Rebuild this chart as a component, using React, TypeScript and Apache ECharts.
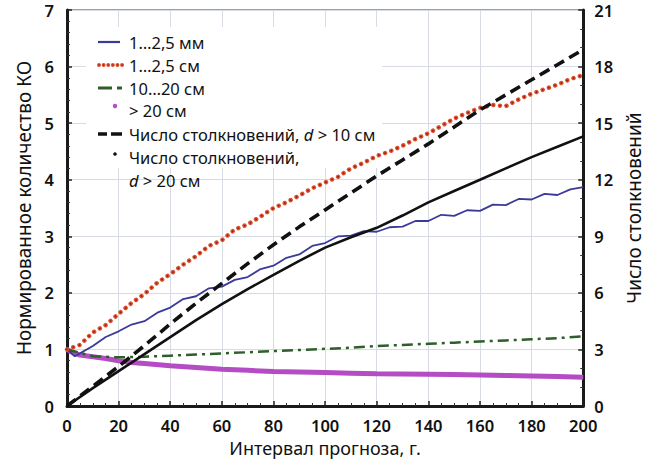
import React, { useEffect, useRef } from "react";
import * as echarts from "echarts";

// forecast interval, years
const step5 = [0,5,10,15,20,25,30,35,40,45,50,55,60,65,70,75,80,85,90,95,100,105,110,115,120,125,130,135,140,145,150,155,160,165,170,175,180,185,190,195,200];
const step10 = [0,10,20,30,40,50,60,70,80,90,100,110,120,130,140,150,160,170,180,190,200];

// 1…2,5 мм (left axis)
const mmX = [0,3,5,10,15,20,25,30,35,40,45,50,55,60,65,70,75,80,85,90,95,100,105,110,115,120,125,130,135,140,145,150,155,160,165,170,175,180,185,190,195,200];
const mmY = [1.00,0.88,0.93,1.06,1.22,1.32,1.44,1.50,1.65,1.74,1.89,1.94,2.08,2.11,2.23,2.28,2.42,2.48,2.62,2.68,2.83,2.88,3.00,3.01,3.09,3.08,3.16,3.17,3.27,3.27,3.38,3.36,3.46,3.45,3.56,3.55,3.66,3.65,3.75,3.73,3.83,3.87];

// 1…2,5 см (left axis, on step5)
const cmY = [1.0,1.08,1.3,1.43,1.63,1.82,1.98,2.18,2.33,2.5,2.65,2.83,2.93,3.12,3.21,3.35,3.5,3.6,3.72,3.85,3.95,4.05,4.2,4.3,4.42,4.5,4.6,4.72,4.82,4.95,5.08,5.18,5.27,5.32,5.3,5.42,5.52,5.6,5.68,5.78,5.85];

// 10…20 см (left axis, on step10)
const midY = [1.0,0.88,0.86,0.87,0.89,0.91,0.93,0.95,0.97,0.99,1.01,1.03,1.06,1.08,1.1,1.12,1.14,1.16,1.18,1.2,1.23];

// > 20 см (left axis)
const bigX = [0,2,5,10,15,20,25,30,40,50,60,70,80,90,100,110,120,130,140,150,160,170,180,190,200];
const bigY = [1.0,0.95,0.9,0.87,0.84,0.8,0.77,0.75,0.71,0.68,0.65,0.63,0.61,0.6,0.59,0.58,0.57,0.565,0.56,0.555,0.55,0.54,0.53,0.52,0.51];

// collisions (right axis, on step10)
const coll10Y = [0,1.05,2.1,3.2,4.35,5.45,6.5,7.55,8.55,9.5,10.4,11.3,12.2,13.05,13.9,14.8,15.7,16.5,17.3,18.1,18.9];
const coll20Y = [0,0.95,1.85,2.75,3.65,4.55,5.4,6.2,6.95,7.7,8.4,8.95,9.45,10.1,10.8,11.4,12.0,12.6,13.2,13.75,14.3];

const legendLabels = ["1…2,5 мм", "1…2,5 см", "10…20 см", "> 20 см", "Число столкновений, ", "Число столкновений,"];

const FONT = "'Noto Sans', 'Open Sans', sans-serif";
const pairs = (xs: number[], ys: number[]) => xs.map((x, i) => [x, ys[i]]);

export default function App() {
  const ref = useRef<HTMLDivElement>(null);
  useEffect(() => {
    if (!ref.current) return;
    const chart = echarts.init(ref.current, undefined, { renderer: "svg" });
    const axisLine = { show: true, lineStyle: { color: "#1a1a1a", width: 3 } };
    const tickLabel = { color: "#111", fontSize: 16.5, fontWeight: 600 as any, fontFamily: FONT, lineHeight: 15 };
    const rowY = [42, 65, 88, 110, 134, 157, 180];
    const lx = 98;
    const tx = 129;
    const lfont = 16.5;
    const legendText = (y: number, text: string, rich?: any) => ({
      type: "text", z: 10, x: tx, y,
      style: { text, fill: "#111", fontSize: lfont, fontFamily: FONT, verticalAlign: "middle", rich },
    });
    const richI = { i: { fontStyle: "italic", fontSize: lfont, fontFamily: FONT, fill: "#111" }, n: { fontSize: lfont, fontFamily: FONT, fill: "#111" } };
    chart.setOption({
      animation: false,
      grid: { left: 67, right: 60, top: 10, bottom: 56, show: true, borderColor: "#444", borderWidth: 1, backgroundColor: "transparent" },
      xAxis: {
        type: "value", min: 0, max: 200, interval: 20,
        name: "Интервал прогноза, г.", nameLocation: "middle", nameGap: 28,
        nameTextStyle: { color: "#111", fontSize: 18, fontFamily: FONT },
        axisLine, axisTick: { inside: true, length: 5, lineStyle: { color: "#222", width: 1.5 } },
        minorTick: { show: true, splitNumber: 4, length: 3, lineStyle: { color: "#333" } },
        axisLabel: { ...tickLabel, margin: 12 },
        splitLine: { show: true, lineStyle: { color: "#d6dbe4", width: 1 } },
      },
      yAxis: [
        {
          type: "value", min: 0, max: 7, interval: 1,
          name: "Нормированное количество КО", nameLocation: "middle", nameGap: 27,
          nameTextStyle: { color: "#111", fontSize: 19, fontFamily: FONT },
          axisLine, axisTick: { inside: true, length: 5, lineStyle: { color: "#222", width: 1.5 } },
          minorTick: { show: true, splitNumber: 5, length: 3, lineStyle: { color: "#333" } },
          axisLabel: { ...tickLabel, margin: 13 },
          splitLine: { show: true, lineStyle: { color: "#d6dbe4", width: 1 } },
        },
        {
          type: "value", min: 0, max: 21, interval: 3, position: "right",
          name: "Число столкновений", nameLocation: "middle", nameGap: 36, nameRotate: 90,
          nameTextStyle: { color: "#111", fontSize: 19, fontFamily: FONT },
          axisLine, axisTick: { inside: true, length: 5, lineStyle: { color: "#222", width: 1.5 } },
          minorTick: { show: true, splitNumber: 3, length: 3, lineStyle: { color: "#333" } },
          axisLabel: { ...tickLabel, margin: 11 },
          splitLine: { show: false },
        },
      ],
      series: [
        { name: "> 20 см", type: "line", yAxisIndex: 0, data: pairs(bigX, bigY), showSymbol: false, z: 2,
          lineStyle: { color: "#b44cc4", width: 5 } },
        { name: "10…20 см", type: "line", yAxisIndex: 0, data: pairs(step10, midY), showSymbol: false, z: 3,
          lineStyle: { color: "#2e5e2a", width: 2.5, type: [11, 5, 3, 5] } },
        { name: "1…2,5 мм", type: "line", yAxisIndex: 0, data: pairs(mmX, mmY), showSymbol: false, z: 4,
          lineStyle: { color: "#3a3a98", width: 1.8 } },
        { name: "1…2,5 см", type: "line", yAxisIndex: 0, data: pairs(step5, cmY), showSymbol: false, z: 5,
          lineStyle: { color: "#e0502f", width: 4.5, type: [0.01, 6.6], cap: "round" } },
        { name: "1…2,5 см ", type: "line", yAxisIndex: 0, data: pairs(step5, cmY), showSymbol: false, z: 6,
          lineStyle: { color: "#8a2416", width: 1.8, type: [0.01, 6.6], cap: "round" } },
        { name: "Число столкновений, d > 20 см", type: "line", yAxisIndex: 1, data: pairs(step10, coll20Y), showSymbol: false, z: 7,
          lineStyle: { color: "#111", width: 2.6 } },
        { name: "Число столкновений, d > 10 см", type: "line", yAxisIndex: 1, data: pairs(step10, coll10Y), showSymbol: false, z: 8,
          lineStyle: { color: "#111", width: 3.6, type: [11, 6] } },
      ],
      graphic: [
        { type: "rect", z: 1, shape: { x: 86, y: 27, width: 296, height: 141 }, style: { fill: "#fff" } },
        { type: "line", z: 10, shape: { x1: lx, y1: rowY[0], x2: lx + 22, y2: rowY[0] }, style: { stroke: "#3a3a98", lineWidth: 2.2 } },
        { type: "line", z: 10, shape: { x1: lx + 1, y1: rowY[1], x2: lx + 26, y2: rowY[1] }, style: { stroke: "#e0502f", lineWidth: 4, lineDash: [0.01, 4.6], lineCap: "round" } },
        { type: "line", z: 11, shape: { x1: lx + 1, y1: rowY[1], x2: lx + 26, y2: rowY[1] }, style: { stroke: "#8a2416", lineWidth: 1.5, lineDash: [0.01, 4.6], lineCap: "round" } },
        { type: "line", z: 10, shape: { x1: lx, y1: rowY[2], x2: lx + 14, y2: rowY[2] }, style: { stroke: "#2e5e2a", lineWidth: 3 } },
        { type: "line", z: 10, shape: { x1: lx + 19, y1: rowY[2], x2: lx + 24, y2: rowY[2] }, style: { stroke: "#2e5e2a", lineWidth: 3 } },
        { type: "circle", z: 10, shape: { cx: 115, cy: rowY[3] - 4, r: 2.2 }, style: { fill: "#b44cc4" } },
        { type: "line", z: 10, shape: { x1: lx, y1: rowY[4], x2: lx + 9, y2: rowY[4] }, style: { stroke: "#111", lineWidth: 3.5 } },
        { type: "line", z: 10, shape: { x1: lx + 13, y1: rowY[4], x2: lx + 24, y2: rowY[4] }, style: { stroke: "#111", lineWidth: 3.5 } },
        { type: "circle", z: 10, shape: { cx: 115, cy: rowY[5] - 3, r: 1.8 }, style: { fill: "#111" } },
        legendText(rowY[0], legendLabels[0]),
        legendText(rowY[1], legendLabels[1]),
        legendText(rowY[2], legendLabels[2]),
        legendText(rowY[3], legendLabels[3]),
        legendText(rowY[4], "{n|" + legendLabels[4] + "}{i|d}{n| > 10 см}", richI),
        legendText(rowY[5], legendLabels[5]),
        legendText(rowY[6], "{i|d}{n| > 20 см}", richI),
      ],
    });
    return () => chart.dispose();
  }, []);
  return <div ref={ref} style={{ position: "fixed", left: 0, top: 0, width: 651, height: 462, background: "#fff" }} />;
}
